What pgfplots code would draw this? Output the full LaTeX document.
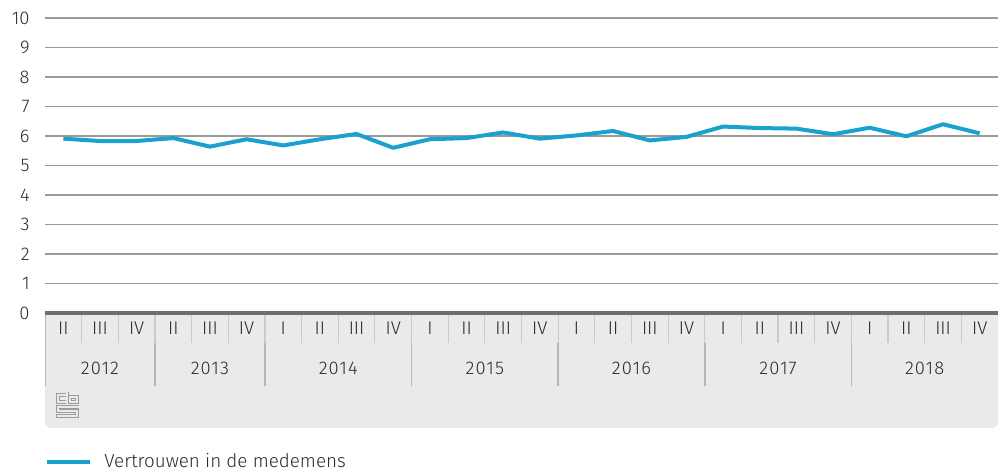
\documentclass[border=0pt]{standalone}
\usepackage{pgfplots}
\pgfplotsset{compat=1.18}
\usepackage{fontspec}
\setmainfont{Fira Sans Light}
\definecolor{cbsblue}{HTML}{1BA1CF}
\definecolor{boxgray}{HTML}{E9EAEA}
\definecolor{sepgray}{HTML}{CACACA}
\definecolor{txt}{HTML}{2A2A2A}
\definecolor{gridgray}{HTML}{9A9A9A}
\definecolor{zerogray}{HTML}{6E6E6E}
\definecolor{logogray}{HTML}{9C9C9C}
\begin{document}
\begin{tikzpicture}
\begin{axis}[
  at={(0,0)}, anchor=south west,
  scale only axis, width=476.5pt, height=147.5pt,
  xmin=0.5, xmax=26.5, ymin=0, ymax=10,
  xtick=\empty, ytick={0,1,...,10},
  ymajorgrids, grid style={gridgray, line width=0.55pt},
  axis line style={draw=none}, major tick length=0pt,
  yticklabel style={anchor=east, inner sep=0pt, xshift=-7.5pt, font=\fontsize{9.2}{11}\selectfont, text=txt},
  /pgf/number format/assume math mode=true,
  clip=false,
  legend style={at={(0,-0.505)}, anchor=west, draw=none, fill=none, inner sep=0pt,
    font=\fontsize{9.4}{11}\selectfont, text=txt, column sep=6pt,
    nodes={inner sep=0pt}},
  legend cell align=left,
  legend image code/.code={\draw[#1] (0pt,0pt) -- (21.5pt,0pt);},
]
\addplot[color=cbsblue, line width=2pt, line join=round] table {
x y
1 5.91
2 5.83
3 5.83
4 5.93
5 5.64
6 5.89
7 5.68
8 5.89
9 6.07
10 5.60
11 5.89
12 5.93
13 6.12
14 5.91
15 6.02
16 6.17
17 5.85
18 5.97
19 6.32
20 6.27
21 6.25
22 6.06
23 6.28
24 5.99
25 6.40
26 6.09
};
\addlegendentry{Vertrouwen in de medemens}
\end{axis}
\begin{scope}[x=0.5pt, y=-0.5pt, shift={(-22.5pt,156.5pt)}]
  \path (0,0) rectangle (1000,472);
  % category box
  \fill[boxgray, rounded corners=3pt] (45,320) rectangle (998,428);
  \fill[boxgray] (45,313) rectangle (998,360);
  % quarter separators
  \foreach \i in {1,...,25} {
    \draw[sepgray, line width=0.6pt] ({45+\i*36.654},313) -- ({45+\i*36.654},343);
  }
  % year separators
  \foreach \i in {3,6,10,14,18,22} {
    \draw[sepgray!90!black, line width=0.9pt] ({45+\i*36.654},343) -- ({45+\i*36.654},386);
  }
  \draw[sepgray!90!black, line width=0.9pt] (45.5,313) -- (45.5,386);
  % quarter labels
  \def\ql{{"II","III","IV","II","III","IV","I","II","III","IV","I","II","III","IV","I","II","III","IV","I","II","III","IV","I","II","III","IV"}}
  \foreach \i in {1,...,26} {
    \pgfmathsetmacro{\lab}{\ql[\i-1]}
    \node[text=txt, font=\fontsize{9.2}{11}\selectfont, inner sep=0pt] at ({45+(\i-0.5)*36.654},328) {\lab};
  }
  % year labels
  \foreach \a/\b/\y in {0/3/2012,3/6/2013,6/10/2014,10/14/2015,14/18/2016,18/22/2017,22/26/2018} {
    \node[text=txt, font=\fontsize{9.2}{11}\selectfont, inner sep=0pt] at ({45+(\a+\b)/2*36.654},368) {\addfontfeature{LetterSpace=6}\y};
  }
  % zero line
  \draw[zerogray, line width=1.6pt] (45,313) -- (998,313);
  % logo
  \begin{scope}[logogray, line width=0.5pt]
    \draw (66,393) -- (56.5,393) -- (56.5,403) -- (66,403);
    \draw (66,396) -- (59.5,396) -- (59.5,400) -- (66,400);
    \draw (68.5,392) -- (68.5,403) -- (78.5,403) -- (78.5,395) -- (68.5,395);
    \draw (71.5,398) rectangle (75.5,400.5);
    \draw (78.5,405.5) -- (56.5,405.5) -- (56.5,412) -- (75.5,412) -- (75.5,414.5) -- (56.5,414.5) -- (56.5,417.5) -- (78.5,417.5) -- (78.5,409) -- (59.5,409) -- (59.5,408) -- (78.5,408);
  \end{scope}
\end{scope}
\end{tikzpicture}
\end{document}
